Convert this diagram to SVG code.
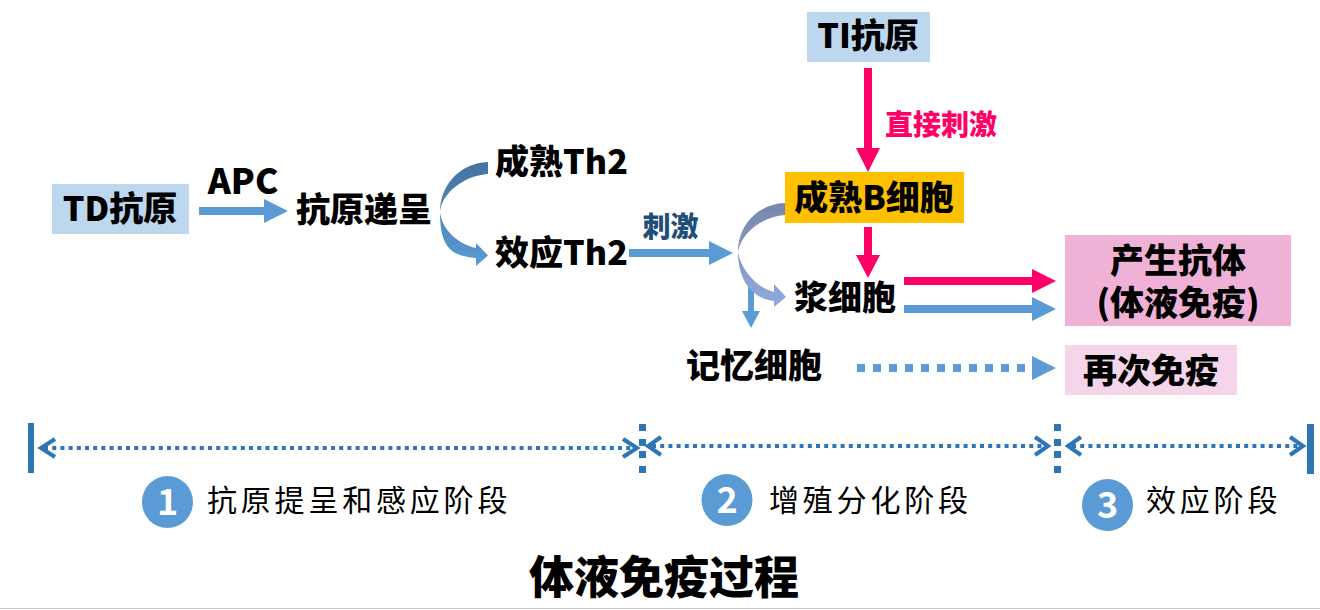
<svg xmlns="http://www.w3.org/2000/svg" width="1320" height="610" viewBox="0 0 1320 610">
<style>
text{font-family:"Noto Sans CJK SC","Noto Sans",sans-serif;fill:#000}
.m{font-size:34px;font-weight:900}
.c{text-anchor:middle}
.s{font-size:30px;font-weight:400;letter-spacing:3.8px}
.n{font-size:36px;font-weight:700;fill:#fff;text-anchor:middle}
.b{fill:#5b9bd5}
.p{fill:#ff0066}
.d{fill:#2e75b6}
.dl{stroke:#2e75b6;stroke-width:4;stroke-dasharray:4 4.2;fill:none}
.ch{stroke:#2e75b6;stroke-width:4;fill:none}
</style>
<defs>
<linearGradient id="g1" gradientUnits="userSpaceOnUse" x1="0" y1="162" x2="0" y2="266"><stop offset="0" stop-color="#44739e"/><stop offset="0.5" stop-color="#4f86b8"/><stop offset="1" stop-color="#5b9bd5"/></linearGradient>
<linearGradient id="g2" gradientUnits="userSpaceOnUse" x1="0" y1="203" x2="0" y2="307"><stop offset="0" stop-color="#7688ab"/><stop offset="1" stop-color="#8faadc"/></linearGradient>
</defs>
<g id="connectors">
<path class="b" d="M199 207H264V199L288 211L264 223V215H199Z"/>
<path class="b" d="M629 249H709V241L733 253L709 265V257H629Z"/>
<path fill="url(#g1)" d="M488 162C460 163 440 185 440 212C440 246 450 256 476 258V266L488 255.500L476 243V248C458 244 442 230 440 212C442 193 463 176 488 174Z"/>
<path class="b" d="M748 285H754V311H760L751 328L742 311H748Z"/>
<path fill="url(#g2)" d="M785 203C757 204 738 226 738 252C738 278 750 298 774 301V307L786 297L774 284V292C757 288 741 270 738 252C741 234 760 217 785 215Z"/>
<path class="p" d="M864 68H872V148H880L868 172L856 148H864Z"/>
<path class="p" d="M864 227H872V255H880L868 278L856 255H864Z"/>
<path class="p" d="M904 277H1032V269L1056 281L1032 293V285H904Z"/>
<path class="b" d="M904 305H1032V297L1056 309L1032 321V313H904Z"/>
<path class="b" d="M857 364h8v8h-8zM873 364h8v8h-8zM889 364h8v8h-8zM905 364h8v8h-8zM921 364h8v8h-8zM937 364h8v8h-8zM953 364h8v8h-8zM969 364h8v8h-8zM985 364h8v8h-8zM1001 364h8v8h-8zM1017 364h8v8h-8zM1032 356L1056 368L1032 380Z"/>
<rect class="d" x="28" y="423" width="6" height="50"/>
<rect class="d" x="1307" y="424" width="7" height="50"/>
<path class="d" d="M639 424h7v7h-7zM639 439h7v7h-7zM639 451h7v7h-7zM639 466h7v7h-7zM1054 424h7v7h-7zM1054 439h7v7h-7zM1054 451h7v7h-7zM1054 466h7v7h-7z"/>
<path class="dl" d="M44 448H632"/>
<path class="ch" d="M55 439L41 448L55 457M623 439L637 448L623 457"/>
<path class="dl" d="M652 446H1044"/>
<path class="ch" d="M661 437L648 446L661 455M1035 437L1048 446L1035 455"/>
<path class="dl" d="M1072 446H1299"/>
<path class="ch" d="M1081 437L1068 446L1081 455M1290 437L1303 446L1290 455"/>
</g>
<g id="ti"><rect x="807" y="12" width="123" height="50" fill="#bdd7ee"/><text class="m c" x="868" y="48">TI抗原</text></g>
<g id="td"><rect x="52" y="184" width="137" height="50" fill="#bdd7ee"/><text class="m c" x="120" y="221">TD抗原</text></g>
<g id="apc"><text class="m c" x="243" y="194" style="font-size:35px">APC</text></g>
<g id="present"><text class="m c" x="364" y="222">抗原递呈</text></g>
<g id="th2m"><text class="m" x="495" y="174">成熟Th2</text></g>
<g id="th2e"><text class="m" x="495" y="265">效应Th2</text></g>
<g id="stim"><text class="c" x="670.500" y="237" style="font-size:28px;font-weight:900;fill:#1f4e79">刺激</text></g>
<g id="direct"><text class="c" x="941" y="135" style="font-size:28px;font-weight:900;fill:#ff0066">直接刺激</text></g>
<g id="bcell"><rect x="785" y="172" width="179" height="51" fill="#ffc000"/><text class="m c" x="874" y="210">成熟B细胞</text></g>
<g id="plasma"><text class="m c" x="845" y="310">浆细胞</text></g>
<g id="memory"><text class="m c" x="754" y="378">记忆细胞</text></g>
<g id="antibody"><rect x="1065" y="235" width="226" height="91" fill="#efb1d6"/><text class="m c" x="1178" y="273">产生抗体</text><text class="m c" x="1178" y="315">(体液免疫)</text></g>
<g id="again"><rect x="1065" y="345" width="172" height="50" fill="#f5d5ea"/><text class="m c" x="1151" y="383">再次免疫</text></g>
<g id="stage1"><ellipse class="b" cx="167.500" cy="502" rx="25.500" ry="26"/><text class="n" x="167.500" y="515">1</text><text class="s" x="207" y="511">抗原提呈和感应阶段</text></g>
<g id="stage2"><ellipse class="b" cx="727" cy="500" rx="25.500" ry="26"/><text class="n" x="727" y="513">2</text><text class="s" x="769" y="511">增殖分化阶段</text></g>
<g id="stage3"><ellipse class="b" cx="1107.500" cy="505" rx="25.500" ry="26"/><text class="n" x="1107.500" y="518">3</text><text class="s" x="1146" y="511">效应阶段</text></g>
<g id="title"><text class="c" x="664" y="594" style="font-size:45px;font-weight:900">体液免疫过程</text></g>
<rect x="0" y="608" width="1320" height="1" fill="#c8c8c8"/>
</svg>
